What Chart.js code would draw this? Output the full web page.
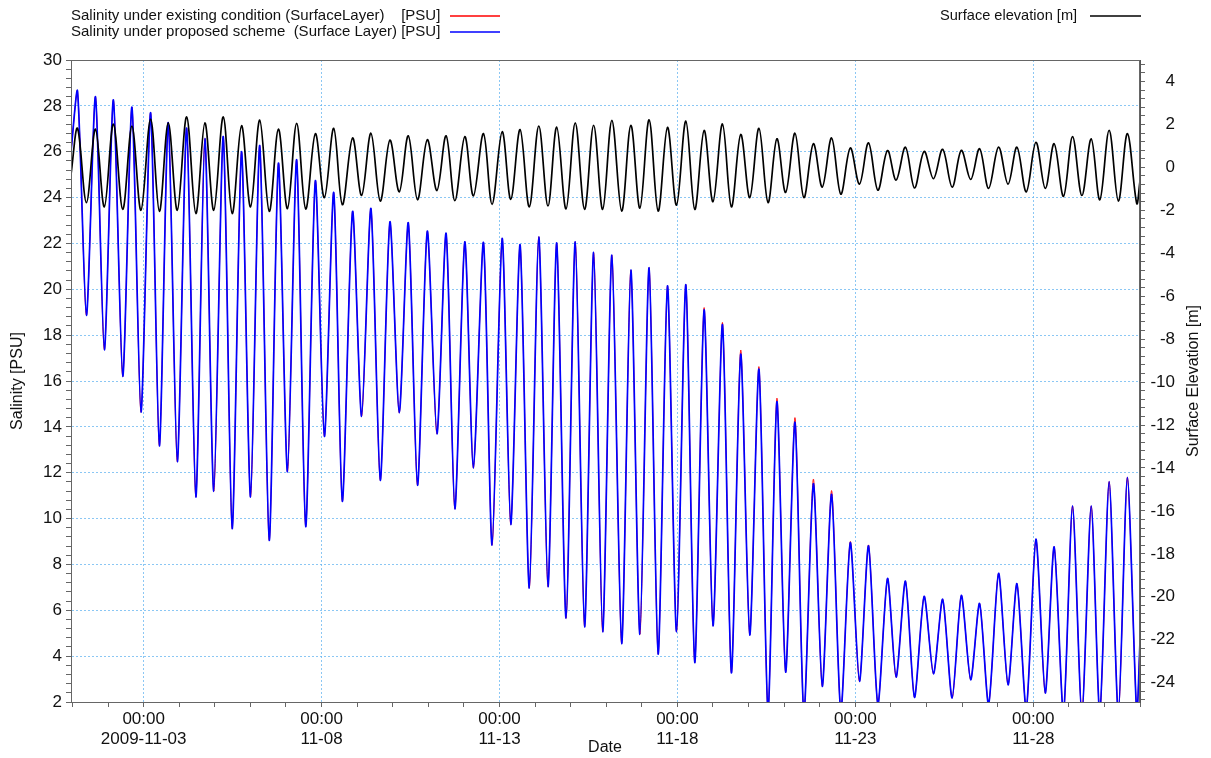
<!DOCTYPE html>
<html><head><meta charset="utf-8">
<script src="https://cdn.jsdelivr.net/npm/chart.js@4.4.0/dist/chart.umd.min.js"></script>
<style>html,body{margin:0;padding:0;background:#fff;overflow:hidden}</style>
</head><body>
<canvas id="c" width="1211" height="758"></canvas>
<script>
// Time of each tidal extreme, hours after 2009-11-01 00:00
const hours = [-1, 3.4, 9.4, 15.5, 21.5, 27.6, 33.9, 40.1, 46.2, 52.7, 58.6, 64.6, 70.7, 77.0, 83.2, 89.3, 95.3, 101.7, 107.7, 114.0, 120.1, 126.3, 132.7, 138.9, 145.0, 151.2, 157.3, 163.8, 169.9, 176.2, 182.0, 188.9, 195.0, 201.3, 207.6, 214.1, 220.4, 226.5, 232.7, 239.3, 245.8, 252.0, 257.9, 264.6, 270.4, 277.2, 283.0, 289.8, 295.6, 301.9, 308.1, 314.5, 320.7, 326.6, 332.9, 339.1, 345.4, 351.5, 357.6, 363.8, 370.4, 376.6, 382.7, 388.9, 395.0, 401.3, 407.4, 413.7, 419.7, 426.0, 432.0, 438.4, 444.4, 450.7, 456.8, 463.0, 469.1, 475.1, 481.0, 487.3, 493.3, 499.7, 505.7, 512.0, 518.2, 524.6, 530.8, 536.9, 543.2, 549.7, 555.5, 561.8, 567.9, 574.4, 580.7, 586.9, 593.3, 599.5, 605.8, 611.8, 617.9, 624.6, 631.0, 637.0, 643.3, 649.8, 656.1, 662.1, 668.4, 674.5, 680.8, 687.1, 692.9, 699.2, 705.4, 711.5, 717.8, 720];

const elevation = [-0.33, 1.82, -1.64, 1.78, -1.84, 2.02, -1.96, 1.92, -2.0, 2.25, -2.05, 2.07, -2.0, 2.35, -2.15, 2.07, -2.0, 2.35, -2.15, 1.94, -1.84, 2.2, -2.05, 1.78, -1.92, 2.05, -1.94, 1.57, -1.41, 1.82, -1.74, 1.37, -1.31, 1.59, -1.57, 1.27, -1.14, 1.47, -1.51, 1.29, -1.08, 1.47, -1.55, 1.43, -1.33, 1.57, -1.72, 1.66, -1.49, 1.76, -1.84, 1.92, -1.8, 1.88, -1.94, 2.07, -1.96, 1.96, -1.96, 2.19, -2.04, 1.96, -1.9, 2.21, -2.04, 1.86, -1.76, 2.15, -1.96, 1.72, -1.6, 2.02, -1.84, 1.53, -1.41, 1.82, -1.64, 1.33, -1.17, 1.59, -1.41, 1.1, -0.92, 1.37, -1.25, 0.9, -0.78, 1.14, -1.06, 0.78, -0.59, 0.94, -0.96, 0.74, -0.53, 0.84, -0.92, 0.79, -0.56, 0.87, -0.98, 0.94, -0.78, 0.94, -1.14, 1.17, -0.98, 1.1, -1.35, 1.43, -1.31, 1.33, -1.51, 1.72, -1.57, 1.57, -1.68, -0.63];

const salinityProposed = [26.0, 28.64, 18.86, 28.40, 17.36, 28.26, 16.2, 27.94, 14.64, 27.7, 13.17, 27.27, 12.48, 27.03, 10.94, 26.57, 11.19, 26.66, 9.56, 26.0, 10.94, 26.27, 9.05, 25.5, 12.04, 25.65, 9.65, 24.73, 13.58, 24.22, 10.75, 23.39, 14.46, 23.52, 11.67, 22.94, 14.61, 22.9, 11.45, 22.53, 13.69, 22.44, 10.42, 22.07, 12.2, 22.04, 8.84, 22.22, 9.74, 21.94, 6.97, 22.29, 7.03, 22.02, 5.65, 22.07, 5.28, 21.61, 5.06, 21.49, 4.55, 20.84, 4.95, 20.94, 4.09, 20.15, 5.06, 20.2, 3.72, 19.1, 5.32, 18.46, 3.27, 17.17, 4.92, 16.51, 1.6, 15.1, 3.3, 14.2, 1.5, 11.52, 2.68, 11.06, 1.6, 8.95, 2.9, 8.81, 1.9, 7.39, 3.08, 7.27, 2.2, 6.61, 3.23, 6.48, 2.17, 6.65, 2.97, 6.3, 1.9, 7.61, 2.75, 7.16, 1.7, 9.1, 2.39, 8.77, 1.5, 10.55, 1.5, 10.55, 1.5, 11.61, 1.5, 11.8, 1.5, 4.64];

const salinityExisting = [26.0, 28.64, 18.86, 28.40, 17.36, 28.26, 16.2, 27.94, 14.64, 27.7, 13.17, 27.27, 12.48, 27.03, 10.94, 26.57, 11.19, 26.66, 9.56, 26.0, 10.94, 26.27, 9.05, 25.5, 12.04, 25.65, 9.65, 24.73, 13.58, 24.22, 10.75, 23.39, 14.46, 23.52, 11.67, 22.94, 14.61, 22.9, 11.45, 22.53, 13.69, 22.44, 10.42, 22.07, 12.2, 22.04, 8.84, 22.22, 9.74, 21.94, 6.97, 22.29, 7.03, 22.02, 5.65, 22.07, 5.28, 21.61, 5.06, 21.49, 4.55, 20.84, 4.95, 20.94, 4.09, 20.15, 5.06, 20.2, 3.72, 19.2, 5.32, 18.55, 3.27, 17.35, 4.92, 16.62, 1.6, 15.25, 3.3, 14.4, 1.5, 11.72, 2.68, 11.22, 1.6, 9.0, 2.9, 8.85, 1.9, 7.39, 3.08, 7.27, 2.2, 6.61, 3.23, 6.48, 2.17, 6.65, 2.97, 6.3, 1.9, 7.61, 2.75, 7.16, 1.7, 9.1, 2.39, 8.77, 1.5, 10.55, 1.5, 10.55, 1.5, 11.61, 1.5, 11.8, 1.5, 4.64];

const xMajorHours = [48, 168, 288, 408, 528, 648];
const xMajorTime = ['00:00', '00:00', '00:00', '00:00', '00:00', '00:00'];
const xMajorDate = ['2009-11-03', '11-08', '11-13', '11-18', '11-23', '11-28'];

const seriesNames = ['Surface elevation [m]', 'Salinity under proposed scheme  (Surface Layer) [PSU]', 'Salinity under existing condition (SurfaceLayer)    [PSU]'];

const FONT = "'Liberation Sans', Arial, sans-serif";
const GRID = 'rgba(100,180,240,0.75)';

const pts = (ys) => hours.map((h, i) => ({x: h, y: ys[i]}));
const near = (v, s) => Math.abs(v / s - Math.round(v / s)) < 1e-6;

const overlay = {
  id: 'overlay',
  afterDraw(chart) {
    const ctx = chart.ctx, a = chart.chartArea;
    ctx.save();
    ctx.strokeStyle = '#666';
    ctx.lineWidth = 1;
    ctx.strokeRect(a.left + 0.5, a.top + 0.5, a.right - a.left - 1, a.bottom - a.top);
    ctx.fillStyle = '#111';
    ctx.textBaseline = 'middle';
    ctx.font = '15px ' + FONT;
    ctx.textAlign = 'left';
    ctx.fillText(seriesNames[2], 71, 16);
    ctx.fillText(seriesNames[1], 71, 32);
    ctx.font = '14.6px ' + FONT;
    ctx.fillText(seriesNames[0], 940, 16);
    ctx.lineWidth = 1.5;
    ctx.strokeStyle = '#ff0000'; ctx.beginPath(); ctx.moveTo(450, 16); ctx.lineTo(500, 16); ctx.stroke();
    ctx.strokeStyle = '#0000ff'; ctx.beginPath(); ctx.moveTo(450, 32); ctx.lineTo(500, 32); ctx.stroke();
    ctx.strokeStyle = '#000'; ctx.beginPath(); ctx.moveTo(1090, 16); ctx.lineTo(1141, 16); ctx.stroke();
    // axis titles
    ctx.font = '16px ' + FONT;
    ctx.textAlign = 'center';
    ctx.fillText('Date', 605, 748);
    ctx.save(); ctx.translate(18, 381); ctx.rotate(-Math.PI / 2); ctx.fillText('Salinity [PSU]', 0, 0); ctx.restore();
    ctx.save(); ctx.translate(1194, 381); ctx.rotate(-Math.PI / 2); ctx.fillText('Surface Elevation [m]', 0, 0); ctx.restore();
    ctx.restore();
  }
};

new Chart(document.getElementById('c'), {
  type: 'line',
  data: {
    datasets: [
      {label: seriesNames[0], data: pts(elevation), yAxisID: 'y2', borderColor: '#000', borderWidth: 1.7, tension: 0.35, clip: 0},
      {label: seriesNames[1], data: pts(salinityProposed), yAxisID: 'y', borderColor: '#0000ff', borderWidth: 1.7, tension: 0.25, clip: 0},
      {label: seriesNames[2], data: pts(salinityExisting), yAxisID: 'y', borderColor: '#ff0000', borderWidth: 1.0, tension: 0.25, clip: 0}
    ]
  },
  options: {
    responsive: false,
    animation: false,
    devicePixelRatio: 1,
    layout: {padding: {top: 60, left: 0, right: 36, bottom: 0}},
    elements: {point: {radius: 0}},
    plugins: {legend: {display: false}, tooltip: {enabled: false}},
    scales: {
      x: {
        type: 'linear', min: -1, max: 720,
        afterBuildTicks: (ax) => { const t = []; for (let d = 0; d <= 30; d++) t.push({value: d * 24}); ax.ticks = t; },
        afterFit: (ax) => { ax.height = 56; },
        ticks: {
          autoSkip: false, maxRotation: 0, minRotation: 0, padding: 2,
          color: '#111', font: {family: FONT, size: 17},
          callback: (v) => { const i = xMajorHours.indexOf(v); return i >= 0 ? [xMajorTime[i], xMajorDate[i]] : ''; }
        },
        grid: {color: (c) => (c.tick && xMajorHours.includes(c.tick.value)) ? GRID : 'rgba(0,0,0,0)', tickColor: '#666', tickLength: 5, lineWidth: 1},
        border: {display: true, color: '#555', width: 1, dash: [2, 2]}
      },
      y: {
        position: 'left', min: 2, max: 30,
        afterBuildTicks: (ax) => { const t = []; for (let i = 0; i <= 70; i++) t.push({value: Math.round((2 + i * 0.4) * 10) / 10}); ax.ticks = t; },
        afterFit: (ax) => { ax.width = 71; },
        ticks: {autoSkip: false, padding: 4, color: '#111', font: {family: FONT, size: 17}, callback: (v) => near(v, 2) ? String(Math.round(v)) : ''},
        grid: {color: (c) => (c.tick && near(c.tick.value, 2)) ? GRID : 'rgba(0,0,0,0)', tickColor: '#666', tickLength: 5},
        border: {display: true, color: '#555', width: 1, dash: [2, 2]}
      },
      y2: {
        position: 'right', min: -24.9, max: 5,
        afterBuildTicks: (ax) => { const t = []; for (let i = 0; i <= 74; i++) t.push({value: Math.round((-24.8 + i * 0.4) * 10) / 10}); ax.ticks = t; },
        afterFit: (ax) => { ax.width = 35; },
        ticks: {autoSkip: false, padding: 4, crossAlign: 'far', color: '#111', font: {family: FONT, size: 17}, callback: (v) => near(v, 2) ? String(Math.round(v)) : ''},
        grid: {drawOnChartArea: false, tickColor: '#666', tickLength: 5},
        border: {display: true, color: '#555', width: 1}
      }
    }
  },
  plugins: [overlay]
});
</script>
</body></html>
